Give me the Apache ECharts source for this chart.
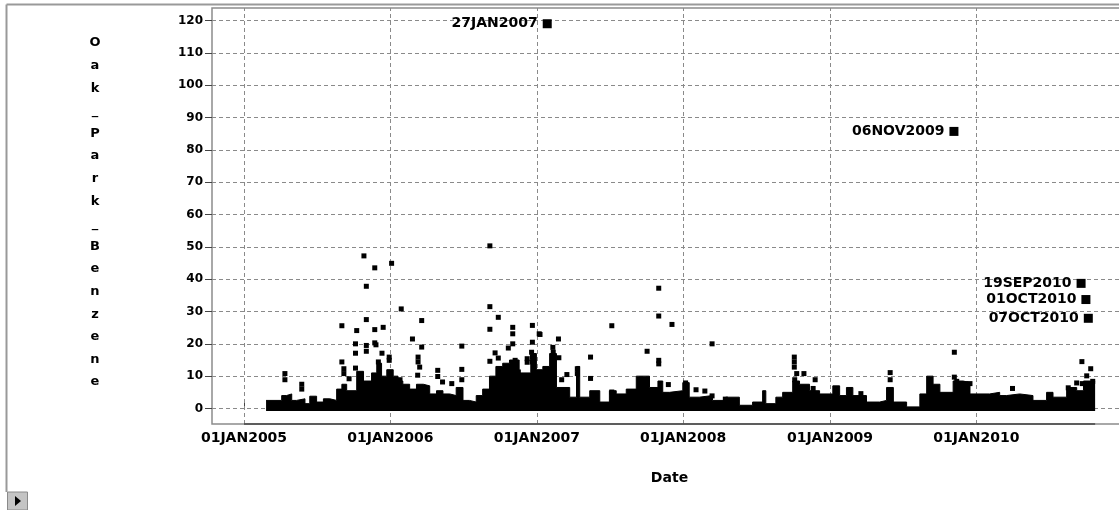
<!DOCTYPE html>
<html>
<head>
<meta charset="utf-8">
<script src="https://cdn.jsdelivr.net/npm/echarts@6/dist/echarts.min.js"></script>
<style>
html,body{margin:0;padding:0;background:#fff;}
#chart{width:1119px;height:510px;}
</style>
</head>
<body>
<div id="chart"></div>
<script>
// ---------- data ----------
const xTickDates  = ['2005-01-01','2006-01-01','2007-01-01','2008-01-01','2009-01-01','2010-01-01'];
const xTickLabels = ['01JAN2005','01JAN2006','01JAN2007','01JAN2008','01JAN2009','01JAN2010'];
const yTicks = [0,10,20,30,40,50,60,70,80,90,100,110,120];

// upper envelope of the dense daily band (value holds from date until next date)
const bandDates = [
'2005-02-25','2005-04-05','2005-04-17','2005-04-30','2005-05-12','2005-06-02','2005-06-14','2005-07-01',
'2005-07-18','2005-08-03','2005-08-20','2005-09-02','2005-09-14','2005-10-09','2005-10-26','2005-11-15',
'2005-11-28','2005-12-10','2005-12-23','2006-01-08','2006-01-20','2006-02-01','2006-02-18','2006-03-07',
'2006-03-24','2006-04-09','2006-04-26','2006-05-12','2006-05-29','2006-06-14','2006-07-01','2006-07-17',
'2006-08-03','2006-08-19','2006-09-05','2006-09-21','2006-10-08','2006-10-25','2006-11-18','2006-12-17',
'2006-12-31','2007-01-16','2007-02-02','2007-02-19','2007-03-24','2007-04-10','2007-04-18','2007-05-13',
'2007-06-07','2007-07-01','2007-07-18','2007-08-12','2007-09-06','2007-10-09','2007-10-30','2007-11-11',
'2007-11-28','2007-12-31','2008-01-16','2008-02-10','2008-03-14','2008-04-16','2008-05-20','2008-06-22',
'2008-07-17','2008-07-25','2008-08-19','2008-09-05','2008-09-30','2008-10-17','2008-11-11','2008-12-06',
'2009-01-08','2009-01-25','2009-02-11','2009-02-27','2009-04-02','2009-05-05','2009-05-22','2009-06-08',
'2009-07-11','2009-08-13','2009-08-30','2009-09-15','2009-10-02','2009-11-04','2009-11-29','2009-12-16',
'2010-02-03','2010-02-28','2010-03-17','2010-04-19','2010-05-22','2010-06-25','2010-07-11','2010-08-14',
'2010-09-08','2010-09-25','2010-10-24'];
const bandValues = [
2.5,4,4.5,2.5,3,1.5,3.8,2,
3,2.5,6,7.5,5.5,11.5,8.5,11,
14,10,12,10,8.5,7.5,6,7.5,
7,4.5,5.5,4.5,4,6.5,2.5,2,
4,6,10,13,14,15,11,17,
12,13,17,6.5,3.5,13,3.5,5.5,
2,5.5,4.5,6,10,6.5,8.5,5,
5.5,8,3.5,4,2.5,3.5,1,2,
5.5,1.5,3.5,5,8.5,7.5,5.5,4.5,
7,4,6.5,4,2,2.5,6.5,2,
0.5,4.5,10,7.5,5,8.5,8,4.5,
5,4,4.5,4,2.5,5,3.5,6.5,
5.5,8.5,8.5];

// individual readings standing above the band
const pointDates = [
'2005-04-13','2005-04-13','2005-05-25','2005-05-25','2005-09-02','2005-09-02','2005-09-07','2005-09-07',
'2005-09-20','2005-10-06','2005-10-06','2005-10-06','2005-10-09','2005-10-27','2005-11-02','2005-11-02',
'2005-11-02','2005-11-02','2005-11-23','2005-11-23','2005-11-23','2005-11-26','2005-12-02','2005-12-11',
'2005-12-14','2005-12-29','2005-12-29','2006-01-04','2006-01-25','2006-01-28','2006-02-25','2006-03-11',
'2006-03-11','2006-03-15','2006-03-10','2006-03-20','2006-03-20','2006-04-29','2006-04-29','2006-05-11',
'2006-06-03','2006-06-28','2006-06-28','2006-06-28','2006-09-06','2006-09-06','2006-09-06','2006-09-06',
'2006-09-19','2006-09-27','2006-09-27','2006-10-22','2006-11-02','2006-11-02','2006-11-02','2006-11-08',
'2006-11-16','2006-12-08','2006-12-08','2006-12-19','2006-12-21','2006-12-21','2006-12-21','2006-12-21',
'2007-01-07','2007-01-09','2007-02-10','2007-02-11','2007-02-11','2007-02-24','2007-02-25','2007-03-04',
'2007-03-17','2007-04-12','2007-04-12','2007-05-15','2007-05-15','2007-07-07','2007-07-07','2007-10-03',
'2007-11-01','2007-11-01','2007-11-01','2007-11-01','2007-12-04','2007-11-25','2008-01-07','2008-02-02',
'2008-02-24','2008-03-13','2008-03-13','2008-04-15','2008-10-04','2008-10-04','2008-10-04','2008-10-05',
'2008-10-10','2008-10-28','2008-11-20','2008-11-25','2009-03-19','2009-05-31','2009-05-31','2009-11-07',
'2009-11-07','2009-11-13','2009-12-05','2009-12-16','2010-04-01','2010-08-18','2010-09-08','2010-09-21',
'2010-09-22','2010-10-03','2010-10-13','2010-10-18'];
const pointValues = [
10.8,8.9,7.5,6,14.4,25.6,12.3,10.8,
9.2,12.5,17.1,20,24.1,47.2,37.8,27.5,
19.5,17.7,43.5,24.4,20.3,19.7,14.4,17.1,
25.1,15.9,14.9,44.9,8.9,30.8,21.5,15.9,
14.4,12.8,10.3,27.2,19,11.8,9.9,8.2,
7.7,19.3,12.1,8.9,50.3,31.5,24.5,14.6,
17.2,28.2,15.6,18.7,25.1,23.1,20,14.9,
11.3,15.4,14.3,17.4,25.7,20.5,15.9,14.4,
23.1,22.9,18.9,17.4,14.9,21.5,15.7,8.9,
10.5,12.3,10.8,15.9,9.3,25.6,5.1,17.7,
37.2,28.6,14.9,13.8,26,7.4,7.9,5.8,
5.4,20,3.9,2.9,15.9,14.4,12.8,8.9,
10.8,10.8,6.2,8.9,4.6,11.1,8.9,17.4,
9.7,8.4,7.7,7.7,6.2,6.4,7.9,14.5,
7.7,10.1,12.3,8.4];

// labelled extreme readings
const outlierDates  = ['2007-01-27','2009-11-06','2010-09-19','2010-10-01','2010-10-07'];
const outlierValues = [119,85.7,38.7,33.7,27.9];
const outlierLabels = ['27JAN2007','06NOV2009','19SEP2010','01OCT2010','07OCT2010'];

// ---------- layout ----------
const W = 1119, H = 510;
const plotLeft = 212, plotRight = 1119, plotTop = 8, plotBottom = 424;
const x2005 = 244, pxPerYear = 146.5;
const y0 = 408.5, pxPerUnit = 3.2333;
const msPerYear = 365.25 * 86400000;
const t = d => Date.UTC(+d.slice(0, 4), +d.slice(5, 7) - 1, +d.slice(8, 10));
const t2005 = t('2005-01-01');
const xMin = t2005 - (x2005 - plotLeft) / pxPerYear * msPerYear;
const xMax = t2005 + (plotRight - x2005) / pxPerYear * msPerYear;
const yMax = (y0 - plotTop) / pxPerUnit;
const yMin = -(plotBottom - y0) / pxPerUnit;

const FONT = '"DejaVu Sans", sans-serif';
const FRAME = '#8c8c8c';

const xTickValues = xTickDates.map(t);
const bandData = bandDates.map((d, i) => [t(d), bandValues[i]]);
const pointData = pointDates.map((d, i) => [t(d), pointValues[i]]);
const outlierData = outlierDates.map((d, i) => [t(d), outlierValues[i]]);

const gridLines = [];
yTicks.forEach(v => gridLines.push({ yAxis: v }));
xTickValues.forEach(v => gridLines.push({ xAxis: v }));
gridLines.push([
  { coord: [xTickValues[0], yMin], lineStyle: { type: 'solid', color: '#444', width: 1.5 } },
  { coord: [t(bandDates[bandDates.length - 1]), yMin] }
]);

const chart = echarts.init(document.getElementById('chart'), null, { renderer: 'canvas' });
chart.setOption({
  animation: false,
  backgroundColor: '#fff',
  grid: {
    left: plotLeft, top: plotTop, width: plotRight - plotLeft, height: plotBottom - plotTop,
    outerBoundsMode: 'none', containLabel: false, show: false
  },
  xAxis: {
    type: 'value', min: xMin, max: xMax, scale: true,
    name: 'Date', nameLocation: 'middle', nameGap: 47,
    nameTextStyle: { fontFamily: FONT, fontWeight: 'bold', fontSize: 14, color: '#000', padding: [0, 0, 0, 8] },
    axisLine: { show: false },
    axisTick: { show: true, inside: true, length: 6, customValues: xTickValues, lineStyle: { color: '#444' } },
    axisLabel: {
      customValues: xTickValues, margin: 7, fontFamily: FONT, fontWeight: 'bold', fontSize: 14, color: '#000',
      formatter: v => { const i = xTickValues.findIndex(x => Math.abs(x - v) < 86400000); return i >= 0 ? xTickLabels[i] : ''; }
    },
    splitLine: { show: false }
  },
  yAxis: {
    type: 'value', min: yMin, max: yMax,
    axisLine: { show: false },
    axisTick: { show: true, length: 7, customValues: yTicks, lineStyle: { color: '#444' } },
    axisLabel: { customValues: yTicks, margin: 9, fontFamily: FONT, fontWeight: 'bold', fontSize: 12, color: '#000' },
    splitLine: { show: false }
  },
  graphic: [
    // outer window border and corner button
    { type: 'line', shape: { x1: 6.5, y1: 4.5, x2: W, y2: 4.5 }, style: { stroke: '#999', lineWidth: 2 } },
    { type: 'line', shape: { x1: 6.5, y1: 4.5, x2: 6.5, y2: 492 }, style: { stroke: '#999', lineWidth: 2 } },
    { type: 'rect', shape: { x: 7.5, y: 492, width: 20, height: 18 }, style: { fill: '#c4c4c4', stroke: '#8a8a8a', lineWidth: 1 } },
    { type: 'polygon', shape: { points: [[15, 496], [15, 506], [21, 501]] }, style: { fill: '#000' } },
    // plot frame (open on the right, it runs past the window edge)
    { type: 'polyline', shape: { points: [[W + 2, plotTop], [plotLeft, plotTop], [plotLeft, plotBottom], [W + 2, plotBottom]] },
      style: { stroke: FRAME, lineWidth: 1.5, fill: null }, z: 0 },
    {
      type: 'text', x: 95, y: 31.7,
      style: {
        text: 'Oak_Park_Benzene'.split('').join('\n'),
        font: 'bold 13px ' + FONT, lineHeight: 22.6, fill: '#000', align: 'center', verticalAlign: 'top'
      }
    }
  ],
  series: [
    {
      name: 'grid', type: 'scatter', data: [], silent: true,
      markLine: {
        silent: true, symbol: 'none', z: 1, animation: false,
        label: { show: false },
        lineStyle: { type: [4, 3], color: '#8a8a8a', width: 1 },
        data: gridLines
      }
    },
    {
      name: 'band', type: 'line', step: 'end', data: bandData, z: 3,
      symbol: 'none', showSymbol: false, silent: true,
      lineStyle: { color: '#000', width: 1 },
      areaStyle: { color: '#000', opacity: 1, origin: -0.8 }
    },
    {
      name: 'points', type: 'scatter', data: pointData, z: 4,
      symbol: 'rect', symbolSize: 5, itemStyle: { color: '#000', opacity: 1 }
    },
    {
      name: 'outliers', type: 'scatter', data: outlierData, z: 5,
      symbol: 'rect', symbolSize: 9, itemStyle: { color: '#000', opacity: 1 },
      label: {
        show: true, position: 'left', distance: 5,
        formatter: p => outlierLabels[p.dataIndex],
        fontFamily: FONT, fontWeight: 'bold', fontSize: 14, color: '#000'
      }
    }
  ]
});
</script>
</body>
</html>
